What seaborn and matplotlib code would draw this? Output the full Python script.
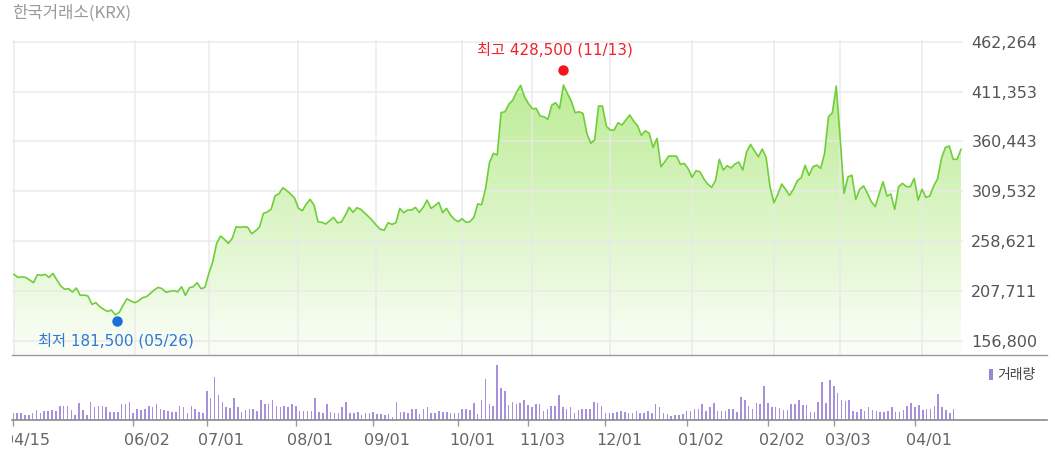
import matplotlib
matplotlib.use('Agg')
import matplotlib.pyplot as plt
import matplotlib.transforms as mtransforms
from matplotlib.colors import LinearSegmentedColormap
from matplotlib.lines import Line2D
from matplotlib.patches import Rectangle
import numpy as np
import pandas as pd
import seaborn as sns

# trading-day index of each date label, and the labels
tick_days = [0, 31, 50, 73, 93, 115, 133, 153, 174, 195, 212, 233]
tick_labels = ['04/15', '06/02', '07/01', '08/01', '09/01', '10/01',
               '11/03', '12/01', '01/02', '02/02', '03/03', '04/01']
price_ticks = [156800, 207711, 258621, 309532, 360443, 411353, 462264]

# daily close (KRW), 04/15 .. 04/14
close = [
    224500, 221400, 221900, 221400, 218700, 216000, 224100, 223500, 224500, 221400,
    225500, 218700, 212600, 209200, 209900, 206400, 210500, 203000, 203300, 202300,
    193800, 195500, 191400, 188700, 186500, 188000, 183000, 185500, 193000, 199500,
    197200, 195500, 197500, 200600, 201600, 205000, 208500, 211200, 209800, 206100,
    207100, 207800, 206700, 211800, 203000, 210800, 211800, 216000, 209800, 211200,
    225500, 237400, 256200, 263700, 260300, 256200, 261300, 273200, 272600, 273200,
    272600, 266000, 269100, 272900, 286900, 288300, 291300, 304900, 307000, 313100,
    310100, 306700, 302600, 292000, 289700, 296500, 301200, 295400, 278400, 277700,
    276000, 279400, 282800, 277300, 278000, 284800, 293100, 287900, 292700, 291000,
    287200, 283500, 279400, 274600, 270600, 269800, 277300, 275600, 277300, 292000,
    287600, 290300, 290300, 293100, 287900, 293100, 300500, 292000, 294700, 298200,
    287600, 292000, 285200, 280800, 278400, 281400, 277700, 278400, 282800, 296500,
    295800, 312000, 338700, 348300, 346600, 390000, 390900, 398700, 402800, 411300,
    417900, 406200, 399400, 393900, 394300, 386500, 385800, 383100, 397700, 400100,
    394300, 418200, 409700, 401800, 389900, 390900, 389200, 368800, 358600, 362000,
    396700, 396700, 376200, 372100, 372100, 379600, 377300, 382400, 387500, 381400,
    376500, 366700, 371400, 368800, 354400, 363700, 334600, 339700, 345500, 345500,
    345500, 337000, 338000, 332600, 323800, 330500, 329500, 322300, 316900, 313500,
    320300, 342200, 331200, 335700, 333300, 337400, 339400, 331200, 349900, 357500,
    351000, 344800, 352700, 344200, 314200, 297800, 306400, 316900, 311500, 305300,
    311500, 320300, 323300, 336000, 325800, 334600, 336300, 333000, 348300, 385800,
    389900, 417200, 363700, 307400, 324300, 325900, 301200, 311500, 314900, 307400,
    298800, 293700, 306700, 319300, 304600, 306700, 291000, 314200, 317600, 314200,
    314200, 322700, 300500, 311500, 303300, 304600, 314900, 322300, 343200, 354400,
    355800, 342200, 342200, 352400,
]

# daily volume (10k shares)
volume = [
    20, 20, 20, 16, 14, 20, 30, 22, 26, 28, 30, 28, 42, 42, 42, 30, 15, 52, 30, 15,
    55, 40, 42, 42, 40, 25, 25, 25, 47, 47, 55, 20, 32, 30, 32, 42, 38, 47, 32, 30,
    28, 25, 25, 42, 38, 20, 42, 32, 24, 20, 88, 65, 128, 74, 55, 38, 35, 65, 38, 25,
    30, 32, 32, 28, 60, 48, 48, 60, 42, 38, 42, 38, 47, 42, 28, 28, 28, 28, 65, 25,
    20, 47, 25, 20, 20, 38, 55, 20, 22, 25, 15, 20, 22, 25, 18, 18, 15, 18, 10, 55,
    25, 25, 20, 32, 32, 18, 32, 38, 20, 22, 28, 25, 24, 22, 20, 20, 32, 32, 30, 50,
    18, 60, 122, 47, 42, 165, 95, 88, 45, 55, 47, 50, 60, 45, 38, 48, 48, 28, 32, 42,
    42, 75, 38, 32, 38, 22, 30, 32, 32, 32, 55, 52, 42, 22, 20, 20, 25, 28, 24, 22,
    22, 28, 20, 20, 28, 20, 47, 38, 20, 18, 12, 15, 15, 18, 28, 28, 32, 32, 47, 28,
    38, 52, 28, 28, 28, 32, 32, 25, 70, 60, 42, 32, 52, 48, 102, 52, 38, 38, 35, 30,
    30, 48, 48, 60, 45, 45, 25, 25, 55, 115, 52, 120, 102, 80, 60, 58, 60, 28, 25, 32,
    28, 38, 30, 28, 25, 25, 28, 38, 25, 25, 30, 42, 52, 38, 45, 30, 32, 32, 42, 78,
    38, 30, 20, 32,
]

high_day, high_value, high_date = 141, 428500, '11/13'
low_day, low_value, low_date = 26, 181500, '05/26'

df = pd.DataFrame({'day': np.arange(len(close)), 'close': close, 'volume': volume})

W, H = 1055, 463
fig = plt.figure(figsize=(W / 100, H / 100), dpi=100)
fig.patch.set_facecolor('white')

ax_p = fig.add_axes([12 / W, (H - 355) / H, (963 - 12) / W, (355 - 40) / H])
ax_v = fig.add_axes([12 / W, (H - 420) / H, (963 - 12) / W, (420 - 355) / H])

px0, px1 = -0.513, 243.52
ybot, ytop = 141970, 464300

# price area: gradient under the line
poly = ax_p.fill_between(df['day'], df['close'], ybot, color='none', lw=0)
cmap = LinearSegmentedColormap.from_list('grn', ['#fbfef8', '#b3e986'])
grad = np.linspace(0, 1, 256).reshape(-1, 1)
im = ax_p.imshow(grad, cmap=cmap, origin='lower', aspect='auto',
                 extent=[px0, px1, ybot, ytop], zorder=1, interpolation='bicubic')
im.set_clip_path(poly.get_paths()[0], transform=ax_p.transData)

sns.lineplot(data=df, x='day', y='close', ax=ax_p, color='#6fcf38', lw=1.2, zorder=4)

ax_p.set_xlim(px0, px1)
ax_p.set_ylim(ybot, ytop)
ax_p.set_xticks(tick_days)
ax_p.set_yticks(price_ticks)
ax_p.set_axisbelow(False)
ax_p.grid(True, color='#e9e9e9', lw=1.2, alpha=0.85, zorder=2)
ax_p.tick_params(axis='x', length=0, labelbottom=False)
ax_p.yaxis.tick_right()
ax_p.tick_params(axis='y', length=0, pad=6, labelsize=11.5, labelcolor='#555555')
ax_p.set_yticklabels([f'{v:,}' for v in price_ticks])
ax_p.set_xlabel('')
ax_p.set_ylabel('')
for s in ax_p.spines.values():
    s.set_visible(False)

# high / low markers
up = mtransforms.offset_copy(ax_p.transData, fig=fig, x=0, y=5, units='dots')
dn = mtransforms.offset_copy(ax_p.transData, fig=fig, x=1.5, y=-5, units='dots')
ax_p.plot(high_day, high_value, 'o', color='#f5141e', ms=7.5, mec='none',
          transform=up, zorder=6, clip_on=False)
ax_p.plot(low_day, low_value, 'o', color='#1d6fd8', ms=7.5, mec='none',
          transform=dn, zorder=6, clip_on=False)
fam = ['DejaVu Sans', 'Noto Sans CJK KR']
ax_p.annotate(f'최고 {high_value:,} ({high_date})', xy=(high_day, high_value),
              xytext=(-8.5 * 0.72, 25 * 0.72), textcoords='offset points',
              ha='center', va='center', color='#f0222b', fontsize=11, family=fam,
              annotation_clip=False)
ax_p.annotate(f'최저 {low_value:,} ({low_date})', xy=(low_day, low_value),
              xytext=(1 * 0.72, -24.6 * 0.72), textcoords='offset points',
              ha='center', va='center', color='#2f78d6', fontsize=11, family=fam,
              annotation_clip=False)

# volume bars
sns.barplot(data=df, x='day', y='volume', ax=ax_v, native_scale=True,
            color='#a690dc', width=0.4, errorbar=None, linewidth=0, saturation=1)
ax_v.set_xlim((12 - 13.3) / 3.87, (963 - 13.3) / 3.87)
ax_v.set_ylim(0, 195)
ax_v.set_xticks(tick_days)
ax_v.set_xticklabels([])
ax_v.set_yticks([])
ax_v.tick_params(axis='x', length=4.5, width=1, color='#999999', direction='out')
ax_v.set_xlabel('')
ax_v.set_ylabel('')
ax_v.patch.set_alpha(0)
for s in ax_v.spines.values():
    s.set_visible(False)

clipbox = mtransforms.TransformedBbox(
    mtransforms.Bbox([[12 / W, 0], [1, 1]]), fig.transFigure)
for d, lab in zip(tick_days, tick_labels):
    t = ax_v.annotate(lab, xy=(d, 0), xycoords=ax_v.get_xaxis_transform(),
                      xytext=(14 * 0.72, -20.7 * 0.72), textcoords='offset points',
                      ha='center', va='center', fontsize=11.5, color='#666666',
                      annotation_clip=False)
    t.set_clip_box(clipbox)
    t.set_clip_on(True)

# panel separator lines
fig.add_artist(Line2D([12 / W, 1047 / W], [(H - 355) / H] * 2,
                      color='#9a9a9a', lw=1.0, transform=fig.transFigure))
fig.add_artist(Line2D([12 / W, 1047 / W], [(H - 420) / H] * 2,
                      color='#8a8a8a', lw=1.2, transform=fig.transFigure))

# title and volume legend
fig.text(12 / W, 1 - 13 / H, '한국거래소(KRX)', ha='left', va='center',
         fontsize=12, color='#9a9a9a', family=['Noto Sans CJK KR', 'DejaVu Sans'])
fig.add_artist(Rectangle((989 / W, 1 - 380 / H), 3.5 / W, 11 / H,
                         transform=fig.transFigure, color='#9a84d6', lw=0))
fig.text(997 / W, 1 - 375 / H, '거래량', ha='left', va='center',
         fontsize=10, color='#444444', family=['Noto Sans CJK KR', 'DejaVu Sans'])

fig.savefig('out.png', dpi=100)
